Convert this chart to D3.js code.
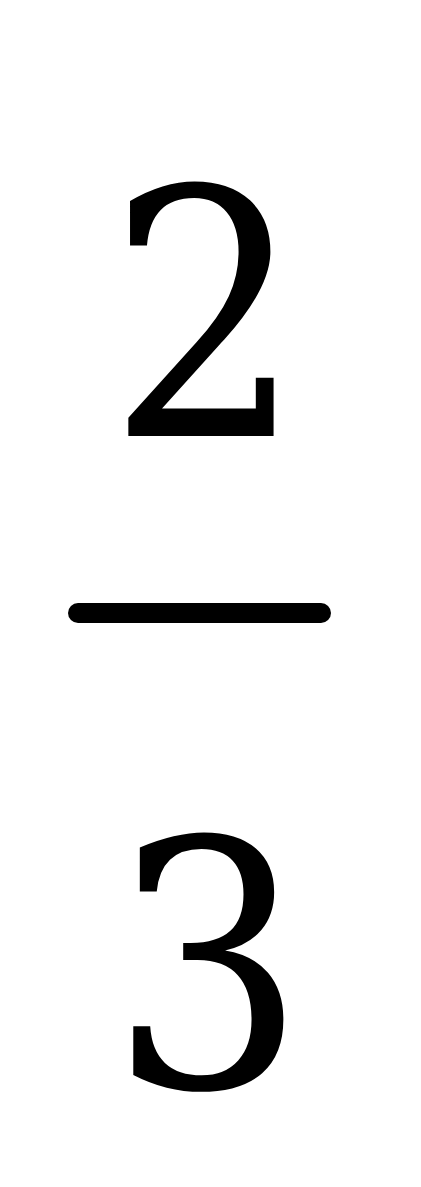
<!DOCTYPE html>
<html>
<head>
<meta charset="utf-8">
<script src="https://cdn.jsdelivr.net/npm/d3@7"></script>
<style>
html,body{margin:0;padding:0;background:#fff;}
svg{display:block;}
</style>
</head>
<body>
<script>
// Fraction content
const numerator = ["2"];
const denominator = ["3"];
const rows = ["numerator", "bar", "denominator"];

const W = 421, H = 1187;
const svg = d3.select("body").append("svg")
  .attr("width", W).attr("height", H);

const y = d3.scaleOrdinal().domain(rows).range([436, 613, 1087]);
const x = d3.scaleLinear().domain([0, 1]).range([78, 321]);

const fontSize = 343;
const fam = "'DejaVu Serif Condensed', 'DejaVu Serif', serif";

svg.selectAll("text.num").data(numerator).join("text")
  .attr("class", "num")
  .attr("x", x(0.525))
  .attr("y", y("numerator"))
  .attr("text-anchor", "middle")
  .attr("font-family", fam)
  .attr("font-stretch", "condensed")
  .attr("font-size", fontSize)
  .attr("fill", "#000")
  .text(d => d);

svg.append("line")
  .attr("x1", x(0)).attr("x2", x(1))
  .attr("y1", y("bar")).attr("y2", y("bar"))
  .attr("stroke", "#000")
  .attr("stroke-width", 20)
  .attr("stroke-linecap", "round");

svg.selectAll("text.den").data(denominator).join("text")
  .attr("class", "den")
  .attr("x", x(0.535))
  .attr("y", y("denominator"))
  .attr("text-anchor", "middle")
  .attr("font-family", fam)
  .attr("font-stretch", "condensed")
  .attr("font-size", fontSize)
  .attr("fill", "#000")
  .text(d => d);
</script>
</body>
</html>
